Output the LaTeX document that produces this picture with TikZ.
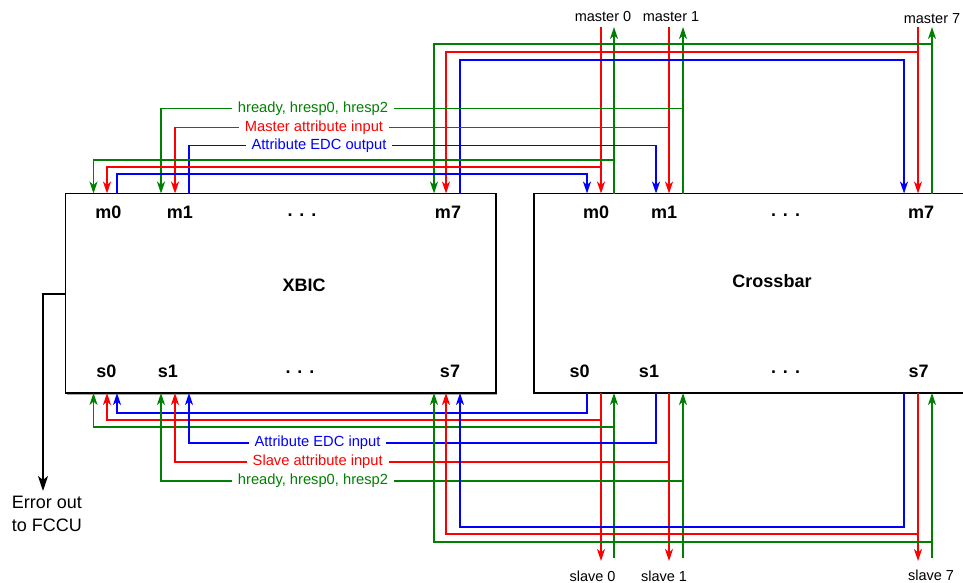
\documentclass[tikz,border=0pt]{standalone}
\usepackage{fontspec}
\setmainfont{Liberation Sans}
\usetikzlibrary{arrows.meta,shadows}
\definecolor{dgreen}{RGB}{0,128,0}
\definecolor{wred}{RGB}{255,0,0}
\definecolor{wblue}{RGB}{0,0,255}
\begin{document}
\begin{tikzpicture}[x=1pt,y=-1pt,
  wire/.style={line width=1.9pt},
  tip/.style={-{Stealth[length=12pt,width=8pt,inset=3.5pt]}},
  gw/.style={wire,dgreen}, rw/.style={wire,wred}, bw/.style={wire,wblue},
  wlab/.style={fill=white,inner xsep=6pt,inner ysep=1pt,font=\fontsize{14.7}{17}\selectfont},
  elab/.style={font=\fontsize{14.5}{17}\selectfont,inner sep=0pt,anchor=base},
  port/.style={font=\bfseries\fontsize{18}{21}\selectfont,inner sep=0pt,anchor=base},
  title/.style={font=\bfseries\fontsize{18}{21}\selectfont,inner sep=0pt},
  blk/.style={draw=black,line width=1.5pt,fill=white,inner sep=0pt,outer sep=0pt}]
\useasboundingbox (0,0) rectangle (963,583);
% blocks
\node[blk,drop shadow={shadow xshift=1.2pt,shadow yshift=-1.5pt,fill=gray!70,opacity=1},
  minimum width=430.5pt,minimum height=199.5pt] (xbic) at (280.75,293.25) {};
\node[blk,minimum width=456pt,minimum height=199.5pt] (xbar) at (762,293.25) {};
\node[title] (xbicname) at (304,285) {XBIC};
\node[title] (xbarname) at (772,281) {Crossbar};
% port labels
\node[port] (pxm0) at (108.3,218) {m0};
\node[port] (pxm1) at (180,218) {m1};
\node[port] (pxmd) at (302,216.5) {.\hspace{7pt}.\hspace{7pt}.};
\node[port] (pxm7) at (448,218) {m7};
\node[port] (pxs0) at (106.5,377.5) {s0};
\node[port] (pxs1) at (168,377.5) {s1};
\node[port] (pxsd) at (300,373.5) {.\hspace{7pt}.\hspace{7pt}.};
\node[port] (pxs7) at (450,377.5) {s7};
\node[port] (pcm0) at (596,218) {m0};
\node[port] (pcm1) at (664,218) {m1};
\node[port] (pcmd) at (785.5,216.5) {.\hspace{7pt}.\hspace{7pt}.};
\node[port] (pcm7) at (921,218) {m7};
\node[port] (pcs0) at (579.7,377.5) {s0};
\node[port] (pcs1) at (649,377.5) {s1};
\node[port] (pcsd) at (785.5,373.5) {.\hspace{7pt}.\hspace{7pt}.};
\node[port] (pcs7) at (918.5,377.5) {s7};
% port coordinates
\foreach \n/\x in {xm0g/93.5,xm0r/107,xm0b/117,xm1g/161,xm1r/175,xm1b/189,xm7g/434,xm7r/446,xm7b/460,
  cm0b/587,cm0r/601,cm0g/614,cm1b/656,cm1r/669,cm1g/683,cm7b/904,cm7r/918,cm7g/932}
  {\coordinate (\n) at (\x,193.5);}
\foreach \n/\x in {xs0g/93.5,xs0r/107,xs0b/117,xs1g/161,xs1r/175,xs1b/189,xs7g/434,xs7r/446,xs7b/460,
  cs0b/587,cs0r/601,cs0g/614,cs1b/656,cs1r/669,cs1g/683,cs7b/904,cs7r/918,cs7g/932}
  {\coordinate (\n) at (\x,393);}
\foreach \n/\x in {mt0r/601,mt0g/614,mt1r/669,mt1g/683,mt7r/918,mt7g/932}
  {\coordinate (\n) at (\x,27);}
\foreach \n/\x/\y in {st0r/601/561,st0g/614/558,st1r/669/561,st1g/683/558,st7r/918/561,st7g/932/558}
  {\coordinate (\n) at (\x,\y);}
\coordinate (errend) at (43,491);
% master lines
\draw[rw,tip] (mt0r) -- (cm0r);
\draw[gw,tip] (cm0g) -- (mt0g);
\draw[rw,tip] (mt1r) -- (cm1r);
\draw[gw,tip] (cm1g) -- (mt1g);
\draw[rw,tip] (mt7r) -- (cm7r);
\draw[gw,tip] (cm7g) -- (mt7g);
% top routing
\draw[gw,tip] (mt7g |- 0,44) -| (xm7g);
\draw[rw,tip] (mt7r |- 0,52) -| (xm7r);
\draw[bw,tip] (xm7b) |- (cm7b |- 0,60) -- (cm7b);
\draw[gw,tip] (mt1g |- 0,108.5) -| (xm1g);
\draw[rw,tip] (mt1r |- 0,127.5) -| (xm1r);
\draw[bw,tip] (xm1b) |- (cm1b |- 0,145.5) -- (cm1b);
\draw[gw,tip] (mt0g |- 0,160) -| (xm0g);
\draw[rw,tip] (mt0r |- 0,167) -| (xm0r);
\draw[bw,tip] (xm0b) |- (cm0b |- 0,174) -- (cm0b);
% slave lines
\draw[rw,tip] (cs0r) -- (st0r);
\draw[gw,tip] (st0g) -- (cs0g);
\draw[rw,tip] (cs1r) -- (st1r);
\draw[gw,tip] (st1g) -- (cs1g);
\draw[rw,tip] (cs7r) -- (st7r);
\draw[gw,tip] (st7g) -- (cs7g);
% bottom routing
\draw[bw,tip] (cs0b) |- (xs0b |- 0,412.7) -- (xs0b);
\draw[rw,tip] (st0r |- 0,420) -| (xs0r);
\draw[gw,tip] (st0g |- 0,427) -| (xs0g);
\draw[bw,tip] (cs1b) |- (xs1b |- 0,442.7) -- (xs1b);
\draw[rw,tip] (st1r |- 0,461.7) -| (xs1r);
\draw[gw,tip] (st1g |- 0,480.7) -| (xs1g);
\draw[bw,tip] (cs7b) |- (xs7b |- 0,526.7) -- (xs7b);
\draw[rw,tip] (st7r |- 0,534) -| (xs7r);
\draw[gw,tip] (st7g |- 0,541.7) -| (xs7g);
% error output
\draw[line width=1.9pt,-{Stealth[length=15pt,width=10pt,inset=4pt]}] (xbic.west |- 0,294) -| (errend);
\node[anchor=north west,inner sep=0pt,align=left,font=\fontsize{18}{22.7}\selectfont] (errlab) at (11.7,496) {Error out\\to FCCU};
% wire labels
\node[wlab,text=dgreen] (lhr1) at (313,108.5) {hready, hresp0, hresp2};
\node[wlab,text=wred] (lmai) at (314,127.5) {Master attribute input};
\node[wlab,text=wblue] (ledo) at (319,145.5) {Attribute EDC output};
\node[wlab,text=wblue] (ledi) at (317.5,442.7) {Attribute EDC input};
\node[wlab,text=wred] (lsai) at (317.7,461.7) {Slave attribute input};
\node[wlab,text=dgreen] (lhr2) at (313,480.7) {hready, hresp0, hresp2};
% external labels
\node[elab] (lm0) at (603,22) {master 0};
\node[elab] (lm1) at (671,22) {master 1};
\node[elab] (lm7) at (932,23.5) {master 7};
\node[elab] (ls0) at (592.5,581) {slave 0};
\node[elab] (ls1) at (664,581.5) {slave 1};
\node[elab] (ls7) at (931,580) {slave 7};
\end{tikzpicture}
\end{document}
